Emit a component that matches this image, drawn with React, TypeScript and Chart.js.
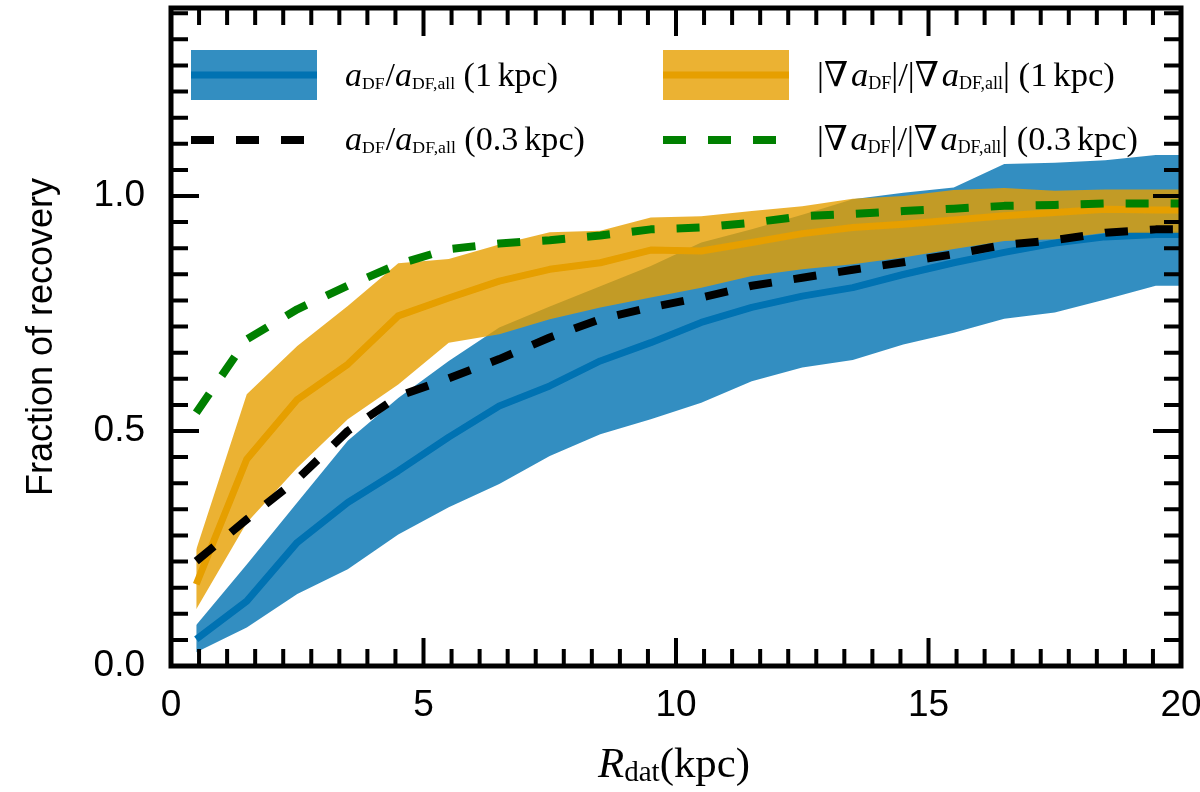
import React, { useEffect, useRef } from 'react';
import { Chart, registerables } from 'chart.js';

Chart.register(...registerables);

// radial bins (kpc); the last one sits past the axis edge and gets clipped
const radii = [0.5, 1.5, 2.5, 3.5, 4.5, 5.5, 6.5, 7.5, 8.5, 9.5, 10.5, 11.5, 12.5, 13.5, 14.5, 15.5, 16.5, 17.5, 18.5, 19.5, 20.5];

// a_DF / a_DF,all, 1 kpc (band + median)
const accLow = [0.029, 0.082, 0.153, 0.206, 0.280, 0.338, 0.387, 0.447, 0.493, 0.525, 0.560, 0.606, 0.635, 0.651, 0.684, 0.709, 0.739, 0.752, 0.780, 0.809, 0.809];
const accMid = [0.057, 0.138, 0.263, 0.348, 0.415, 0.487, 0.553, 0.596, 0.649, 0.688, 0.731, 0.763, 0.787, 0.805, 0.833, 0.858, 0.880, 0.900, 0.913, 0.918, 0.918];
const accHigh = [0.087, 0.216, 0.348, 0.479, 0.570, 0.649, 0.720, 0.765, 0.808, 0.851, 0.901, 0.929, 0.960, 0.993, 1.007, 1.018, 1.068, 1.071, 1.076, 1.087, 1.087];

// |grad a_DF| / |grad a_DF,all|, 1 kpc
const gradLow = [0.121, 0.305, 0.422, 0.525, 0.599, 0.688, 0.706, 0.738, 0.763, 0.784, 0.805, 0.830, 0.844, 0.855, 0.869, 0.887, 0.904, 0.908, 0.922, 0.922, 0.922];
const gradMid = [0.174, 0.440, 0.567, 0.642, 0.745, 0.783, 0.819, 0.844, 0.858, 0.885, 0.883, 0.901, 0.920, 0.933, 0.940, 0.949, 0.958, 0.965, 0.972, 0.970, 0.970];
const gradHigh = [0.248, 0.578, 0.681, 0.766, 0.857, 0.866, 0.897, 0.923, 0.926, 0.954, 0.957, 0.968, 0.978, 0.994, 1.000, 1.013, 1.017, 1.011, 1.014, 1.014, 1.014];

// 0.3 kpc medians
const acc03 = [0.223, 0.312, 0.397, 0.500, 0.574, 0.612, 0.653, 0.699, 0.738, 0.763, 0.784, 0.809, 0.826, 0.843, 0.859, 0.876, 0.896, 0.906, 0.922, 0.929, 0.929];
const grad03 = [0.539, 0.695, 0.759, 0.809, 0.855, 0.887, 0.899, 0.906, 0.916, 0.929, 0.933, 0.943, 0.957, 0.962, 0.968, 0.973, 0.979, 0.981, 0.984, 0.984, 0.984];

const xTicks = [0, 5, 10, 15, 20];
const yTicks = [0, 0.5, 1.0];
const X_MINORS = 9; // minor intervals per major
const Y_MINORS = 9;

const W = 1200;
const H = 792;
const AREA = { left: 171, right: 1181, top: 8, bottom: 666 };

const BLUE = '#0072B2';
const BLUE_FILL = 'rgba(0,114,178,0.8)';
const ORANGE = '#E69F00';
const ORANGE_FILL = 'rgba(230,159,0,0.8)';
const GREEN = '#008000';
const SANS = '"Liberation Sans", Arial, Helvetica, sans-serif';
const SERIF = '"Liberation Serif", "DejaVu Serif", serif';

type Seg = { t?: string; it?: boolean; sub?: boolean; gap?: number };

const ratioLabel = (scale: string): Seg[] => [
  { t: 'a', it: true }, { t: 'DF', sub: true }, { gap: 0.03 }, { t: '/' },
  { t: 'a', it: true }, { t: 'DF,all', sub: true }, { gap: 0.25 },
  { t: '(' + scale }, { gap: 0.17 }, { t: 'kpc)' },
];
const gradLabel = (scale: string): Seg[] => [
  { t: '|\u2207' }, { gap: 0.08 }, { t: 'a', it: true }, { t: 'DF', sub: true }, { t: '|/|\u2207' }, { gap: 0.08 },
  { t: 'a', it: true }, { t: 'DF,all', sub: true }, { t: '|' }, { gap: 0.25 },
  { t: '(' + scale }, { gap: 0.17 }, { t: 'kpc)' },
];
const xTitle: Seg[] = [{ t: 'R', it: true }, { t: 'dat', sub: true }, { t: '(kpc)' }];

const segFont = (s: Seg, size: number, subRatio: number) =>
  `${s.it ? 'italic ' : ''}${s.sub ? size * subRatio : size}px ${SERIF}`;

function segsWidth(ctx: CanvasRenderingContext2D, segs: Seg[], size: number, subRatio: number) {
  let w = 0;
  for (const s of segs) {
    if (s.gap) { w += s.gap * size; continue; }
    ctx.font = segFont(s, size, subRatio);
    w += ctx.measureText(s.t || '').width;
  }
  return w;
}

// draws math-ish text fitted to a given width
function drawSegs(ctx: CanvasRenderingContext2D, segs: Seg[], x: number, baseline: number, width: number, subRatio: number) {
  const size = 40 * width / segsWidth(ctx, segs, 40, subRatio);
  let cx = x;
  ctx.fillStyle = '#000';
  ctx.textAlign = 'left';
  ctx.textBaseline = 'alphabetic';
  for (const s of segs) {
    if (s.gap) { cx += s.gap * size; continue; }
    ctx.font = segFont(s, size, subRatio);
    ctx.fillText(s.t || '', cx, s.sub ? baseline + size * 0.1 : baseline);
    cx += ctx.measureText(s.t || '').width;
  }
}

const frameAndLegend = {
  id: 'frameAndLegend',
  afterDraw(chart: Chart) {
    const { ctx, chartArea: a } = chart;
    const xs = chart.scales.x;
    const ys = chart.scales.y;
    ctx.save();

    // inward ticks on all four sides
    ctx.strokeStyle = '#000';
    ctx.lineWidth = 4;
    ctx.lineCap = 'butt';
    ctx.beginPath();
    const xStep = 5 / X_MINORS;
    for (let k = 0; k * xStep <= 20 + 1e-9; k++) {
      const px = xs.getPixelForValue(k * xStep);
      const len = k % X_MINORS === 0 ? 28 : 17;
      ctx.moveTo(px, a.bottom); ctx.lineTo(px, a.bottom - len);
      ctx.moveTo(px, a.top); ctx.lineTo(px, a.top + len);
    }
    const yStep = 0.5 / Y_MINORS;
    for (let k = 0; k * yStep <= 1.4 + 1e-9; k++) {
      const py = ys.getPixelForValue(k * yStep);
      const len = k % Y_MINORS === 0 ? 28 : 17;
      ctx.moveTo(a.left, py); ctx.lineTo(a.left + len, py);
      ctx.moveTo(a.right, py); ctx.lineTo(a.right - len, py);
    }
    ctx.stroke();

    ctx.lineWidth = 5;
    ctx.strokeRect(a.left, a.top, a.right - a.left, a.bottom - a.top);

    // legend, two columns
    const patch = (x: number, fill: string, line: string) => {
      ctx.fillStyle = fill;
      ctx.fillRect(x, 50, 126, 50);
      ctx.strokeStyle = line;
      ctx.lineWidth = 7;
      ctx.setLineDash([]);
      ctx.beginPath(); ctx.moveTo(x, 75); ctx.lineTo(x + 126, 75); ctx.stroke();
    };
    const dash = (x: number, color: string) => {
      ctx.strokeStyle = color;
      ctx.lineWidth = 8;
      ctx.setLineDash([23, 22]);
      ctx.beginPath(); ctx.moveTo(x, 140); ctx.lineTo(x + 114, 140); ctx.stroke();
      ctx.setLineDash([]);
    };
    patch(191, BLUE_FILL, BLUE);
    dash(191, '#000');
    patch(663, ORANGE_FILL, ORANGE);
    dash(663, GREEN);

    drawSegs(ctx, ratioLabel('1'), 345, 86, 213, 0.52);
    drawSegs(ctx, ratioLabel('0.3'), 345, 150, 240, 0.52);
    drawSegs(ctx, gradLabel('1'), 817, 86, 298, 0.52);
    drawSegs(ctx, gradLabel('0.3'), 817, 150, 321, 0.52);

    // x-axis title with subscript
    drawSegs(ctx, xTitle, 598, 777, 152, 0.68);
    ctx.restore();
  },
};

const pts = (ys: number[]) => radii.map((r, i) => ({ x: r, y: ys[i] }));

const band = (data: number[], fill: string, order: number, label: string) => ({
  label,
  data: pts(data),
  borderColor: 'rgba(0,0,0,0)',
  borderWidth: 0,
  backgroundColor: fill,
  pointRadius: 0,
  fill: fill === 'none' ? false : '-1',
  order,
  clip: 0,
});

const line = (data: number[], color: string, width: number, dash: number[], order: number, label: string) => ({
  label,
  data: pts(data),
  borderColor: color,
  borderWidth: width,
  borderDash: dash,
  borderJoinStyle: 'round' as const,
  borderCapStyle: 'butt' as const,
  pointRadius: 0,
  fill: false,
  tension: 0,
  order,
  clip: 0,
});

// keep the plot box where the reference has it: no extra padding for edge labels
const noPad = (s: any) => {
  s.paddingLeft = 0;
  s.paddingRight = 0;
  s.paddingTop = 0;
  s.paddingBottom = 0;
};

export default function App() {
  const canvasRef = useRef<HTMLCanvasElement>(null);

  useEffect(() => {
    const canvas = canvasRef.current;
    if (!canvas) return;
    const tickFont = { family: SANS, size: 37 };
    const chart = new Chart(canvas, {
      type: 'line',
      data: {
        datasets: [
          band(accLow, 'none', 10, 'a_DF/a_DF,all (1 kpc) low'),
          band(accHigh, BLUE_FILL, 9, 'a_DF/a_DF,all (1 kpc) high'),
          line(accMid, BLUE, 7, [], 8, 'a_DF/a_DF,all (1 kpc)'),
          band(gradLow, 'none', 7, '|∇a_DF|/|∇a_DF,all| (1 kpc) low'),
          band(gradHigh, ORANGE_FILL, 6, '|∇a_DF|/|∇a_DF,all| (1 kpc) high'),
          line(gradMid, ORANGE, 7, [], 5, '|∇a_DF|/|∇a_DF,all| (1 kpc)'),
          line(acc03, '#000', 8, [23, 22], 4, 'a_DF/a_DF,all (0.3 kpc)'),
          line(grad03, GREEN, 8, [23, 22], 3, '|∇a_DF|/|∇a_DF,all| (0.3 kpc)'),
        ] as any,
      },
      options: {
        animation: false,
        responsive: false,
        devicePixelRatio: 1,
        events: [],
        layout: { padding: { left: 0, top: AREA.top, right: W - AREA.right, bottom: 0 } },
        plugins: { legend: { display: false }, tooltip: { enabled: false } },
        scales: {
          x: {
            type: 'linear',
            min: 0,
            max: 20,
            afterBuildTicks: (s: any) => { s.ticks = xTicks.map((v) => ({ value: v })); },
            afterFit: (s: any) => { s.height = H - AREA.bottom; noPad(s); },
            ticks: { font: tickFont, color: '#000', padding: 18, autoSkip: false, maxRotation: 0, callback: (v: any) => String(v) },
            grid: { display: false, drawTicks: false },
            border: { display: false },
          },
          y: {
            type: 'linear',
            min: 0,
            max: 1.4,
            afterBuildTicks: (s: any) => { s.ticks = yTicks.map((v) => ({ value: v })); },
            afterFit: (s: any) => { s.width = AREA.left; noPad(s); },
            ticks: { font: tickFont, color: '#000', padding: 26, autoSkip: false, callback: (v: any) => Number(v).toFixed(1) },
            grid: { display: false, drawTicks: false },
            border: { display: false },
            title: {
              display: true,
              text: 'Fraction of recovery',
              font: { family: SANS, size: 36 },
              color: '#000',
              padding: { top: 20, bottom: 0 },
            },
          },
        },
      },
      plugins: [frameAndLegend],
    });
    return () => {
      chart.destroy();
    };
  }, []);

  return (
    <div style={{ position: 'fixed', left: 0, top: 0, width: W, height: H, background: '#fff' }}>
      <canvas ref={canvasRef} width={W} height={H} />
    </div>
  );
}
